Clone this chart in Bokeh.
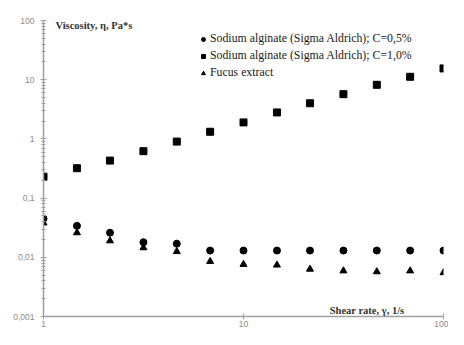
from bokeh.plotting import figure
from bokeh.models import ColumnDataSource, Legend, LegendItem, Label, CustomJSTickFormatter, FixedTicker, LogTicker
from bokeh.embed import file_html
from bokeh.resources import INLINE

shear_rate = [1, 1.47, 2.15, 3.16, 4.64, 6.81, 10, 14.7, 21.5, 31.6, 46.4, 68.1, 100]
visc_05 = [0.045, 0.034, 0.026, 0.018, 0.017, 0.013, 0.013, 0.013, 0.013, 0.013, 0.013, 0.013, 0.013]
visc_10 = [0.23, 0.32, 0.43, 0.62, 0.90, 1.32, 1.9, 2.8, 4.0, 5.7, 8.2, 11.2, 15.5]
visc_fucus = [0.038, 0.026, 0.019, 0.0145, 0.0125, 0.0085, 0.0076, 0.0074, 0.0063, 0.0059, 0.0057, 0.0059, 0.0055]
legend_labels = ["Sodium alginate (Sigma Aldrich); C=0,5%",
                 "Sodium alginate (Sigma Aldrich); C=1,0%",
                 "Fucus extract"]
y_title = "Viscosity, η, Pa*s"
x_title = "Shear rate, γ, 1/s"

src = ColumnDataSource(dict(x=shear_rate, a=visc_05, b=visc_10, c=visc_fucus))

p = figure(width=448, height=329, x_axis_type="log", y_axis_type="log",
           x_range=(1, 100), y_range=(0.001, 100),
           output_backend="svg", toolbar_location=None,
           min_border_left=43, min_border_top=20, min_border_right=5, min_border_bottom=0)
p.outline_line_color = None
p.grid.grid_line_color = None
p.background_fill_color = "white"

fmt = CustomJSTickFormatter(code="return Number(tick.toPrecision(6)).toString().replace('.', ',');")
for ax in (p.xaxis[0], p.yaxis[0]):
    ax.formatter = fmt
    ax.axis_line_color = "#a0a0a0"
    ax.axis_line_width = 1.5
    ax.major_tick_line_color = "#a0a0a0"
    ax.minor_tick_line_color = "#a0a0a0"
    ax.major_label_text_color = "#8a8a8a"
    ax.major_label_text_font = "Liberation Sans"
    ax.major_label_text_font_size = "8.5px"
    ax.major_tick_out = 3
    ax.major_tick_in = 3
    ax.minor_tick_out = 2
    ax.minor_tick_in = 2

p.xaxis[0].ticker = FixedTicker(ticks=[1, 10, 100])
p.xaxis[0].major_label_standoff = 1
p.yaxis[0].ticker = LogTicker(num_minor_ticks=10)
p.yaxis[0].major_label_standoff = 6

r1 = p.scatter("x", "a", source=src, marker="circle", size=7, color="black")
r2 = p.scatter("x", "b", source=src, marker="square", size=7, color="black")
r3 = p.scatter("x", "c", source=src, marker="triangle", size=7, color="black")

legend = Legend(items=[LegendItem(label=legend_labels[0], renderers=[r1]),
                       LegendItem(label=legend_labels[1], renderers=[r2]),
                       LegendItem(label=legend_labels[2], renderers=[r3])],
                location=(155, 236), border_line_color=None, background_fill_alpha=0,
                label_text_font="Liberation Serif", label_text_font_size="11.8px",
                label_text_color="#1a1a1a", glyph_width=10, glyph_height=14,
                label_height=14, spacing=2, padding=0, margin=0, label_standoff=2)
p.add_layout(legend, "center")

p.add_layout(Label(x=1, y=100, x_offset=12, y_offset=-5, text=y_title, text_baseline="middle",
                   text_font="Liberation Serif", text_font_style="bold", text_font_size="10.5px",
                   text_color="#333333"))
p.add_layout(Label(x=27, y=0.001, x_offset=0, y_offset=1, text=x_title, text_baseline="bottom",
                   text_font="Liberation Serif", text_font_style="bold", text_font_size="10.5px",
                   text_color="#333333"))

open("out.html", "w").write(file_html(p, INLINE))
